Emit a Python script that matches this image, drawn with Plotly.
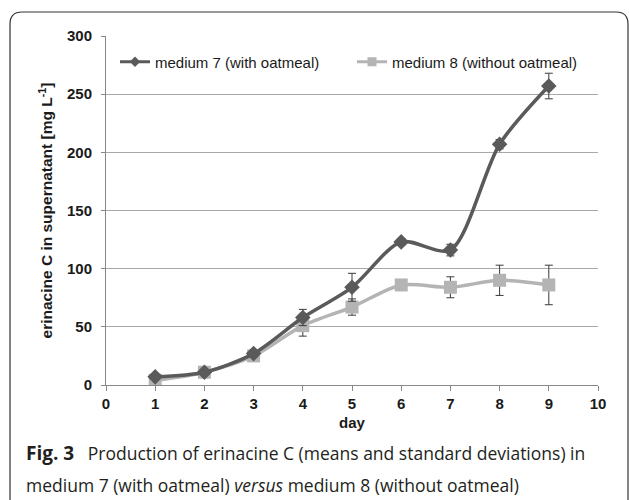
import plotly.graph_objects as go

days = [1, 2, 3, 4, 5, 6, 7, 8, 9]
med7 = [7, 11, 27, 58, 84, 123, 116, 207, 257]
med7_sd = [2, 2, 3, 7, 12, 3, 5, 4, 11]
med8 = [4, 11, 25, 51, 67, 86, 84, 90, 86]
med8_sd = [2, 2, 3, 9, 7, 2, 9, 13, 17]
names = ["medium 7 (with oatmeal)", "medium 8 (without oatmeal)"]

W, H = 629, 500
L, R, T, B = 106, 31, 36, 115
pw, ph = W - L - R, H - T - B
DARK, LIGHT = "#5a5a5a", "#b4b4b4"

def px(x):
    return (x - L) / pw

def py(y):
    return (H - B - y) / ph

fig = go.Figure()
fig.add_trace(go.Scatter(
    x=days, y=med8, name=names[1], mode="lines+markers",
    line=dict(color=LIGHT, width=3.5, shape="spline", smoothing=0.8),
    marker=dict(symbol="square", size=13, color=LIGHT),
    error_y=dict(type="data", array=med8_sd, color="#3a3a3a", thickness=1, width=4),
    showlegend=False,
))
fig.add_trace(go.Scatter(
    x=days, y=med7, name=names[0], mode="lines+markers",
    line=dict(color=DARK, width=3.5, shape="spline", smoothing=0.8),
    marker=dict(symbol="diamond", size=12, color=DARK),
    error_y=dict(type="data", array=med7_sd, color="#3a3a3a", thickness=1, width=4),
    showlegend=False,
))
# legend entries (smaller symbols as in reference)
fig.add_trace(go.Scatter(
    x=[None], y=[None], name=names[0], mode="lines+markers", legend="legend",
    line=dict(color=DARK, width=3), marker=dict(symbol="diamond", size=8, color=DARK),
))
fig.add_trace(go.Scatter(
    x=[None], y=[None], name=names[1], mode="lines+markers", legend="legend2",
    line=dict(color=LIGHT, width=3), marker=dict(symbol="square", size=9, color=LIGHT),
))

tickfont = dict(size=15, family="Liberation Sans, Arial", weight="bold", color="#1a1a1a")
legfont = dict(size=15, family="Liberation Sans, Arial", color="#1a1a1a")
fig.update_layout(
    width=W, height=H,
    margin=dict(l=L, r=R, t=T, b=B),
    paper_bgcolor="white", plot_bgcolor="white",
    font=dict(family="Liberation Sans, Arial, sans-serif", color="#1a1a1a"),
    legend=dict(x=px(115), y=py(62), xanchor="left", yanchor="middle",
                font=legfont, bgcolor="rgba(0,0,0,0)"),
    legend2=dict(x=px(352), y=py(62), xanchor="left", yanchor="middle",
                 font=legfont, bgcolor="rgba(0,0,0,0)"),
    xaxis=dict(range=[0, 10], dtick=1, showgrid=False, ticks="outside", ticklen=5,
               tickcolor="#888", linecolor="#888", showline=True, zeroline=False,
               tickfont=tickfont,
               title=dict(text="<b>day</b>", font=dict(size=15), standoff=6)),
    yaxis=dict(range=[0, 300], dtick=50, showgrid=True, gridcolor="#a8a8a8", gridwidth=1,
               ticks="outside", ticklen=4, tickcolor="#888", linecolor="#888", showline=True,
               zeroline=False, tickfont=tickfont, ticklabelstandoff=6,
               title=dict(text="<b>erinacine C in supernatant [mg L<sup>-1</sup>]</b>",
                          font=dict(size=15.5), standoff=10)),
)

# rounded frame
x0, y0, x1, y1, r = px(10), py(12), px(628), py(512), 12 / pw
ry = 12 / ph
path = (f"M {x0+r},{y0} L {x1-r},{y0} Q {x1},{y0} {x1},{y0-ry} "
        f"L {x1},{y1+ry} Q {x1},{y1} {x1-r},{y1} L {x0+r},{y1} "
        f"Q {x0},{y1} {x0},{y1+ry} L {x0},{y0-ry} Q {x0},{y0} {x0+r},{y0} Z")
fig.add_shape(type="path", path=path, xref="paper", yref="paper",
              line=dict(color="#333", width=1.2), layer="below")

cap_font = dict(family="Open Sans", size=17.5, color="#231f20")
fig.add_annotation(x=px(24), y=py(453), xref="paper", yref="paper", xanchor="left", yanchor="middle",
                   text="<b><span style='font-size:19px'>Fig. 3</span></b>&nbsp;&nbsp; Production of erinacine C (means and standard deviations) in",
                   showarrow=False, font=cap_font)
fig.add_annotation(x=px(24), y=py(485), xref="paper", yref="paper", xanchor="left", yanchor="middle",
                   text="medium 7 (with oatmeal) <i>versus</i> medium 8 (without oatmeal)",
                   showarrow=False, font=cap_font)

fig.write_html("out.html")
